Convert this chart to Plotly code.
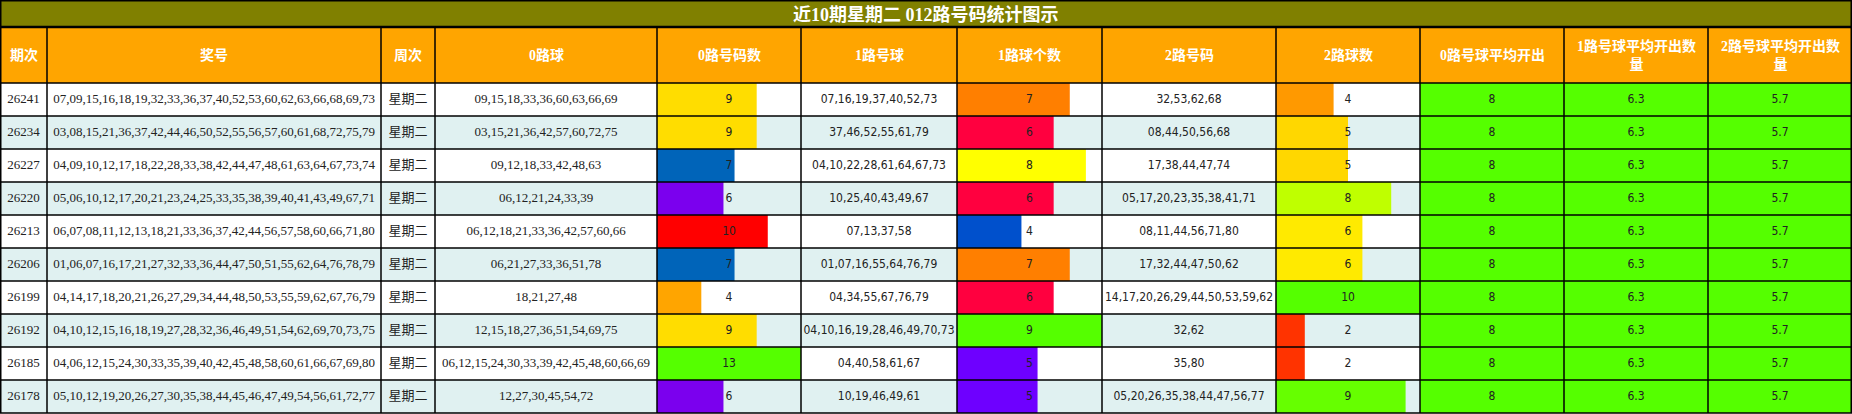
import plotly.graph_objects as go

# ---- data ----
title = "近10期星期二 012路号码统计图示"
headers = ["期次", "奖号", "周次", "0路球", "0路号码数", "1路号球", "1路球个数",
           "2路号码", "2路球数", "0路号球平均开出", "1路号球平均开出数<br>量",
           "2路号球平均开出数<br>量"]

periods = ["26241", "26234", "26227", "26220", "26213", "26206", "26199", "26192", "26185", "26178"]
draws = [
    "07,09,15,16,18,19,32,33,36,37,40,52,53,60,62,63,66,68,69,73",
    "03,08,15,21,36,37,42,44,46,50,52,55,56,57,60,61,68,72,75,79",
    "04,09,10,12,17,18,22,28,33,38,42,44,47,48,61,63,64,67,73,74",
    "05,06,10,12,17,20,21,23,24,25,33,35,38,39,40,41,43,49,67,71",
    "06,07,08,11,12,13,18,21,33,36,37,42,44,56,57,58,60,66,71,80",
    "01,06,07,16,17,21,27,32,33,36,44,47,50,51,55,62,64,76,78,79",
    "04,14,17,18,20,21,26,27,29,34,44,48,50,53,55,59,62,67,76,79",
    "04,10,12,15,16,18,19,27,28,32,36,46,49,51,54,62,69,70,73,75",
    "04,06,12,15,24,30,33,35,39,40,42,45,48,58,60,61,66,67,69,80",
    "05,10,12,19,20,26,27,30,35,38,44,45,46,47,49,54,56,61,72,77",
]
weekdays = ["星期二"] * 10
road0_nums = [
    "09,15,18,33,36,60,63,66,69",
    "03,15,21,36,42,57,60,72,75",
    "09,12,18,33,42,48,63",
    "06,12,21,24,33,39",
    "06,12,18,21,33,36,42,57,60,66",
    "06,21,27,33,36,51,78",
    "18,21,27,48",
    "12,15,18,27,36,51,54,69,75",
    "06,12,15,24,30,33,39,42,45,48,60,66,69",
    "12,27,30,45,54,72",
]
road0_cnt = [9, 9, 7, 6, 10, 7, 4, 9, 13, 6]
road1_nums = [
    "07,16,19,37,40,52,73",
    "37,46,52,55,61,79",
    "04,10,22,28,61,64,67,73",
    "10,25,40,43,49,67",
    "07,13,37,58",
    "01,07,16,55,64,76,79",
    "04,34,55,67,76,79",
    "04,10,16,19,28,46,49,70,73",
    "04,40,58,61,67",
    "10,19,46,49,61",
]
road1_cnt = [7, 6, 8, 6, 4, 7, 6, 9, 5, 5]
road2_nums = [
    "32,53,62,68",
    "08,44,50,56,68",
    "17,38,44,47,74",
    "05,17,20,23,35,38,41,71",
    "08,11,44,56,71,80",
    "17,32,44,47,50,62",
    "14,17,20,26,29,44,50,53,59,62",
    "32,62",
    "35,80",
    "05,20,26,35,38,44,47,56,77",
]
road2_cnt = [4, 5, 5, 8, 6, 6, 10, 2, 2, 9]
avg0 = [8, 8, 8, 8, 8, 8, 8, 8, 8, 8]
avg1 = [6.3, 6.3, 6.3, 6.3, 6.3, 6.3, 6.3, 6.3, 6.3, 6.3]
avg2 = [5.7, 5.7, 5.7, 5.7, 5.7, 5.7, 5.7, 5.7, 5.7, 5.7]

# ---- styling / geometry ----
W, H = 1852, 414
TITLE_H, HEAD_H, ROW_H = 27, 56, 33
col_w = [47, 334, 54, 222, 144, 156, 145, 174, 144, 144, 144, 144]
edges = [0]
for w in col_w:
    edges.append(edges[-1] + w)

# data bar colours, keyed by value (per column)
bar_col0 = {4: "#FFA500", 6: "#7B00EE", 7: "#0064B9", 9: "#FFDD00", 10: "#FF0000", 13: "#55FF00"}
bar_col1 = {4: "#0050CC", 5: "#6E00FF", 6: "#FF003F", 7: "#FF7F00", 8: "#FFFF00", 9: "#55FF00"}
bar_col2 = {2: "#FF3300", 4: "#FF9900", 5: "#FFD700", 6: "#FFEA00", 8: "#BFFF00", 9: "#66FF00", 10: "#55FF00"}

serif = "Liberation Serif, Noto Sans CJK SC, serif"
sans = "DejaVu Sans Condensed, DejaVu Sans, sans-serif"
cjk = "Noto Sans CJK SC, sans-serif"
txt_color = "#222222"
stripe = ["#FFFFFF", "#E0F1F1"]
avg_green = "#55FF00"

n = len(periods)
rows = list(range(n))
body_top = TITLE_H + HEAD_H


def px(x):
    return x / W


def py(y):
    # pixel from top -> paper coordinate
    return 1 - y / H


fig = go.Figure()

# bar columns: one x axis per column, range 0..max so the largest value fills the cell
bar_cols = [(4, road0_cnt, bar_col0, "x2"), (6, road1_cnt, bar_col1, "x3"), (8, road2_cnt, bar_col2, "x4")]
for ci, vals, cmap, xa in bar_cols:
    fig.add_trace(go.Bar(
        x=vals, y=rows, orientation="h", width=1,
        marker=dict(color=[cmap[v] for v in vals], line_width=0),
        xaxis=xa, yaxis="y2", hoverinfo="skip", showlegend=False,
    ))
    fig.add_trace(go.Scatter(
        x=[max(vals) / 2] * n, y=rows, mode="text", text=[str(v) for v in vals],
        textfont=dict(family=sans, size=12, color=txt_color),
        xaxis=xa, yaxis="y2", hoverinfo="skip", showlegend=False,
    ))

# plain text columns
text_cols = [
    (0, periods, serif, 13),
    (1, draws, serif, 13),
    (2, weekdays, cjk, 13),
    (3, road0_nums, serif, 13),
    (5, road1_nums, sans, 12),
    (7, road2_nums, sans, 12),
    (9, [str(v) for v in avg0], sans, 12),
    (10, [str(v) for v in avg1], sans, 12),
    (11, [str(v) for v in avg2], sans, 12),
]
for ci, vals, fam, size in text_cols:
    cx = (edges[ci] + edges[ci + 1]) / 2
    fig.add_trace(go.Scatter(
        x=[cx] * n, y=rows, mode="text", text=vals,
        textfont=dict(family=fam, size=size, color=txt_color),
        xaxis="x", yaxis="y2", hoverinfo="skip", showlegend=False,
    ))

shapes = []
# backgrounds
shapes.append(dict(type="rect", xref="paper", yref="paper", x0=0, x1=1, y0=py(TITLE_H), y1=1,
                   fillcolor="#808000", line_width=0, layer="below"))
shapes.append(dict(type="rect", xref="paper", yref="paper", x0=0, x1=1, y0=py(body_top), y1=py(TITLE_H),
                   fillcolor="#FFA500", line_width=0, layer="below"))
for r in rows:
    y0 = body_top + r * ROW_H
    shapes.append(dict(type="rect", xref="paper", yref="paper", x0=0, x1=px(edges[9]),
                       y0=py(y0 + ROW_H), y1=py(y0), fillcolor=stripe[r % 2], line_width=0, layer="below"))
    shapes.append(dict(type="rect", xref="paper", yref="paper", x0=px(edges[9]), x1=1,
                       y0=py(y0 + ROW_H), y1=py(y0), fillcolor=avg_green, line_width=0, layer="below"))

# grid lines
line = dict(color="black", width=1.5)
bottom = body_top + n * ROW_H
for e in edges:
    xe = min(max(e, 0.75), W - 0.75)
    shapes.append(dict(type="line", xref="paper", yref="paper", x0=px(xe), x1=px(xe),
                       y0=py(TITLE_H if 0 < e < W else 0), y1=py(bottom), line=line, layer="above"))
for yy in [0.75, TITLE_H] + [body_top + r * ROW_H for r in range(n)] + [bottom]:
    shapes.append(dict(type="line", xref="paper", yref="paper", x0=0, x1=1, y0=py(yy), y1=py(yy),
                       line=dict(color="black", width=2.5 if yy == TITLE_H else 1.5), layer="above"))

annotations = [dict(text="<b>%s</b>" % title, xref="paper", yref="paper", x=0.5, y=py(TITLE_H / 2 + 1),
                    xanchor="center", yanchor="middle",
                    showarrow=False, font=dict(family=serif, size=18, color="white"))]
for ci, h in enumerate(headers):
    annotations.append(dict(text="<b>%s</b>" % h, xref="paper", yref="paper",
                            x=px((edges[ci] + edges[ci + 1]) / 2), y=py(TITLE_H + HEAD_H / 2),
                            xanchor="center", yanchor="middle", align="center",
                            showarrow=False, font=dict(family=serif, size=14, color="white")))

body_dom = [py(bottom), py(body_top)]
axis_off = dict(visible=False, fixedrange=True)
fig.update_layout(
    width=W, height=H, margin=dict(l=0, r=0, t=0, b=0),
    paper_bgcolor="white", plot_bgcolor="rgba(0,0,0,0)",
    showlegend=False, shapes=shapes, annotations=annotations,
    xaxis=dict(range=[0, W], domain=[0, 1], anchor="y2", **axis_off),
    yaxis2=dict(range=[n - 0.5, -0.5], domain=body_dom, anchor="x", **axis_off),
    xaxis2=dict(range=[0, max(road0_cnt)], domain=[px(edges[4]), px(edges[5])], anchor="y2", **axis_off),
    xaxis3=dict(range=[0, max(road1_cnt)], domain=[px(edges[6]), px(edges[7])], anchor="y2", **axis_off),
    xaxis4=dict(range=[0, max(road2_cnt)], domain=[px(edges[8]), px(edges[9])], anchor="y2", **axis_off),
)

# drop the browser's default 8px body margin so the table sits at the page origin
fig.write_html("out.html", config={"displayModeBar": False},
               post_script="document.body.style.margin='0';")
